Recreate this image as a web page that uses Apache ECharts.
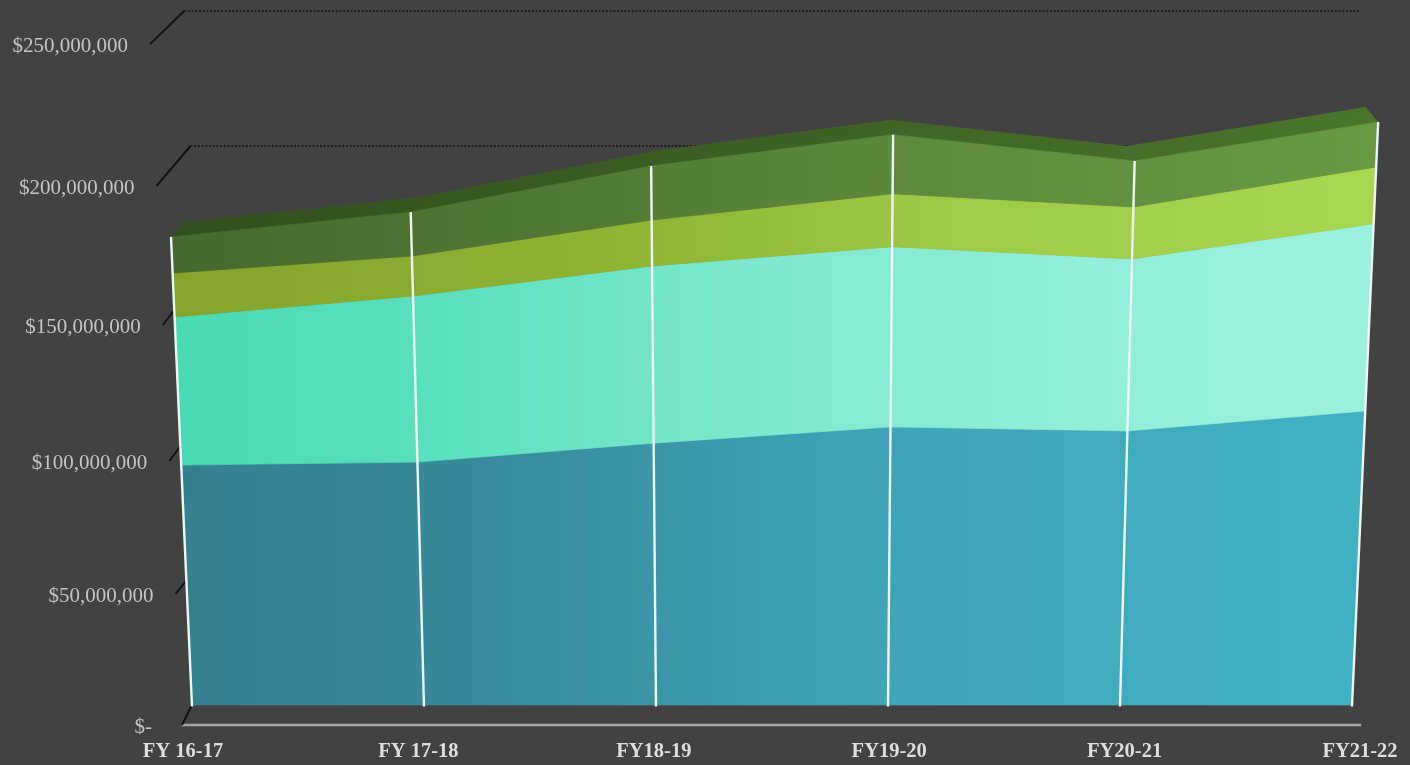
<!DOCTYPE html>
<html><head><meta charset="utf-8">
<style>html,body{margin:0;padding:0;background:#424242}#c{width:1410px;height:765px}</style>
<script src="https://cdn.jsdelivr.net/npm/echarts@6/dist/echarts.min.js"></script>
</head><body><div id="c"></div>
<script>
// ---- data (millions of dollars)
const fiscalYears = ['FY 16-17','FY 17-18','FY18-19','FY19-20','FY20-21','FY21-22'];
const layerBlue  = [88.6, 89.7, 96.7, 102.7, 101.2, 108.6];
const layerTeal  = [54.7, 61.3, 65.4, 66.5, 63.5, 69.1];
const layerLime  = [16.2, 14.8, 17.0, 19.6, 19.2, 21.0];
const layerGreen = [13.3, 16.2, 19.9, 21.8, 17.0, 16.6];
const tickValues = [0, 50, 100, 150, 200, 250];
const tickLabels = ['$-','$50,000,000','$100,000,000','$150,000,000','$200,000,000','$250,000,000'];

// ---- layout of the 3D look
const CX = 772, K_DATA = 7.74e-5, K_BACK = 8.5e-5, FLOOR_DATA = 705, FLOOR_BACK = 686;
const frontDrop = [39, 43, 45, 44, 40, 33];
const frontRun = 34;
const ridgeDepth = 0.021, ridgeRise = 15;
const project = (p, k, floor) => [p[0] + (p[0] - CX) * k * (floor - p[1]), p[1]];

const grad = (x1, x2, stops) => ({type:'linear', x:x1, y:0, x2:x2, y2:0, global:true,
  colorStops: stops.map(s => ({offset:s[0], color:s[1]}))});
const GX1 = 170, GX2 = 1380;
const fills = {
  blue:  grad(GX1,GX2,[[0,'#35808f'],[0.25,'#378a9b'],[0.6,'#3ea6b8'],[1,'#40b2c4']]),
  teal:  grad(GX1,GX2,[[0,'#49dab4'],[0.2,'#58dfbd'],[0.5,'#80e8cf'],[0.75,'#90eed9'],[1,'#9bf1de']]),
  lime:  grad(GX1,GX2,[[0,'#84a42c'],[0.4,'#8fb635'],[0.65,'#9fcb48'],[1,'#a8d750']]),
  green: grad(GX1,GX2,[[0,'#47682f'],[0.35,'#537a35'],[0.65,'#5f8c3d'],[1,'#679a42']]),
  ridge: grad(GX1,GX2,[[0,'#32501e'],[0.4,'#3b5d24'],[1,'#4b752b']])
};

// cumulative rows for the stack
const running = fiscalYears.map(() => 0);
function stackRows(vals){
  return vals.map((v,i) => { const b = running[i]; running[i] = b + v; return [i, b, b + v]; });
}
const rowsBlue = stackRows(layerBlue), rowsTeal = stackRows(layerTeal),
      rowsLime = stackRows(layerLime), rowsGreen = stackRows(layerGreen);

function layerSeries(name, rows, fill){
  return {type:'custom', name, coordinateSystem:'cartesian2d', xAxisIndex:1, yAxisIndex:1, clip:false, silent:true,
    data:rows, encode:{x:0,y:[1,2]},
    renderItem(params, api){
      if (params.dataIndexInside !== 0) return null;
      const n = params.dataInsideLength, up = [], down = [];
      for (let i=0;i<n;i++){
        up.push(project(api.coord([api.value(0,i), api.value(2,i)]), K_DATA, FLOOR_DATA));
        down.unshift(project(api.coord([api.value(0,i), api.value(1,i)]), K_DATA, FLOOR_DATA));
      }
      return {type:'polygon', shape:{points:up.concat(down)}, style:{fill, stroke:fill, lineWidth:0.7, lineJoin:'round'}};
    }};
}
const ridgeSeries = {type:'custom', name:'ridge', coordinateSystem:'cartesian2d', xAxisIndex:1, yAxisIndex:1, clip:false, silent:true,
  data:rowsGreen, encode:{x:0,y:[1,2]},
  renderItem(params, api){
    if (params.dataIndexInside !== 0) return null;
    const n = params.dataInsideLength, front = [], back = [];
    for (let i=0;i<n;i++){
      const p = project(api.coord([api.value(0,i), api.value(2,i)]), K_DATA, FLOOR_DATA);
      front.unshift(p);
      back.push([p[0] - (p[0]-CX)*ridgeDepth, p[1]-ridgeRise]);
    }
    return {type:'polygon', shape:{points:back.concat(front)}, style:{fill:fills.ridge}};
  }};
const dropLines = {type:'custom', name:'drop lines', coordinateSystem:'cartesian2d', xAxisIndex:1, yAxisIndex:1, clip:false, silent:true,
  data:rowsGreen, encode:{x:0,y:[1,2]},
  renderItem(params, api){
    const i = api.value(0);
    const a = project(api.coord([i, 0]), K_DATA, FLOOR_DATA);
    const b = project(api.coord([i, api.value(2)]), K_DATA, FLOOR_DATA);
    return {type:'line', shape:{x1:a[0],y1:a[1]+1.5,x2:b[0],y2:b[1]}, style:{stroke:'#eef6f3', lineWidth:2.4}};
  }};
const tickSeries = {type:'custom', name:'value ticks', coordinateSystem:'cartesian2d', xAxisIndex:2, yAxisIndex:2, clip:false, silent:true,
  data:tickValues.map((v,i)=>[v,i]), encode:{y:0},
  renderItem(params, api){
    const v = api.value(0), idx = api.value(1);
    const back = project(api.coord([0, v]), K_BACK, FLOOR_BACK);
    const backR = project(api.coord([5, v]), K_BACK, FLOOR_BACK);
    const fx = back[0] - frontRun, fy = back[1] + frontDrop[idx];
    const tx = v === 0 ? fx + 10 : back[0], ty = v === 0 ? fy - 20 : back[1];
    const gap = v === 0 ? 30 : 22;
    return {type:'group', children:[
      {type:'line', shape:{x1:back[0],y1:back[1],x2:backR[0],y2:backR[1]},
       style:{stroke:'#1c1c1c', lineWidth:1.8, lineDash:[2,1.7]}},
      {type:'line', shape:{x1:fx,y1:fy,x2:tx,y2:ty}, style:{stroke:'#111', lineWidth:2}},
      {type:'text', x:fx - gap, y:fy + 2, style:{text:tickLabels[idx], align:'right', verticalAlign:'middle',
        fontFamily:'"Liberation Serif",serif', fontSize:21, fill:'#c4c4c4'}}
    ]};
  }};

const hiddenCat = g => ({type:'category', gridIndex:g, data:fiscalYears, boundaryGap:false, show:false});
const hiddenVal = g => ({type:'value', gridIndex:g, min:0, max:250, show:false});

const chart = echarts.init(document.getElementById('c'));
chart.setOption({
  animation:false,
  backgroundColor:'#424242',
  grid:[
    {left:183, right:50, top:11, bottom:40},
    {left:192, right:58, top:28, bottom:60},
    {left:216, right:82, top:11, bottom:79}
  ],
  xAxis:[
    {type:'category', gridIndex:0, data:fiscalYears, boundaryGap:false,
     axisLine:{lineStyle:{color:'#a6a6a6', width:2.4, cap:'square'}}, axisTick:{show:false},
     axisLabel:{interval:0, margin:16, color:'#dedede', fontFamily:'"Liberation Serif",serif', fontWeight:'bold', fontSize:20.5}},
    hiddenCat(1), hiddenCat(2)
  ],
  yAxis:[hiddenVal(0), hiddenVal(1), hiddenVal(2)],
  series:[
    tickSeries,
    ridgeSeries,
    layerSeries('Layer 1', rowsBlue, fills.blue),
    layerSeries('Layer 2', rowsTeal, fills.teal),
    layerSeries('Layer 3', rowsLime, fills.lime),
    layerSeries('Layer 4', rowsGreen, fills.green),
    dropLines
  ]
});
</script></body></html>
